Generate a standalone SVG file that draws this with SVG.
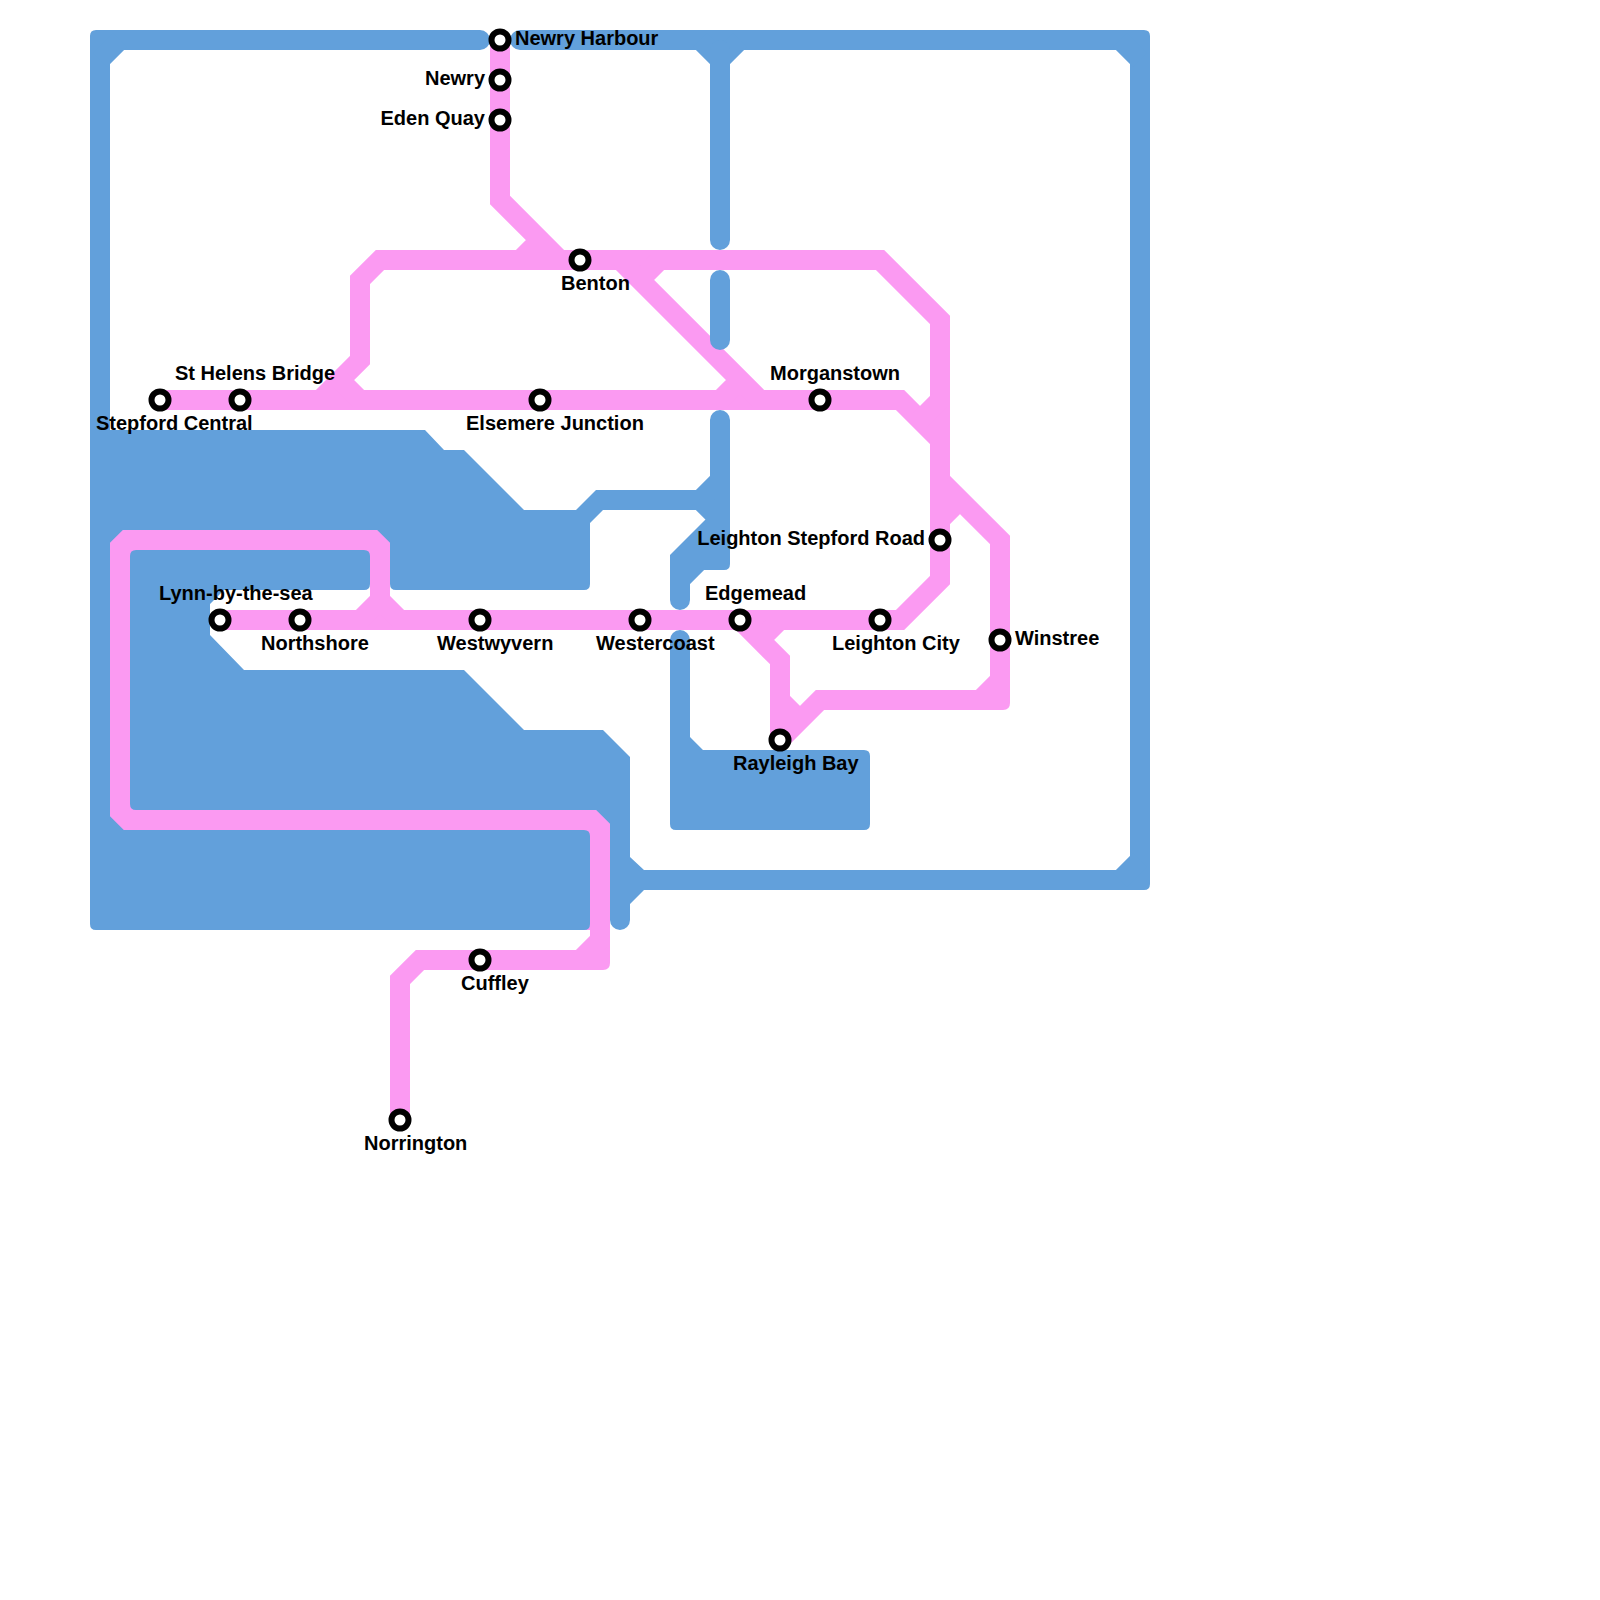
<svg xmlns="http://www.w3.org/2000/svg" width="1600" height="1600" viewBox="0 0 1600 1600">
<style>
.b{fill:#62a0db;stroke:none}
.bl{fill:none;stroke:#62a0db;stroke-width:20}
.blr{fill:none;stroke:#62a0db;stroke-width:20;stroke-linecap:round}
.p{fill:none;stroke:#fb9af2;stroke-width:20;stroke-linejoin:miter}
.pf{fill:#fb9af2;stroke:none}
.s{fill:#fff;stroke:#000;stroke-width:6}
text{font-family:"Liberation Sans",Arial,sans-serif;font-size:20px;font-weight:700;fill:#000}
.e{text-anchor:end}
</style>
<rect width="1600" height="1600" fill="#fff"/>
<g id="connectors">
<g id="line-blue">
<path class="b" d="M480 30H96Q90 30 90 36V435H110V50H480A10 10 0 0 0 480 30Z"/>
<path class="b" d="M520 30H1144Q1150 30 1150 36V884Q1150 890 1144 890H620V870H1130V50H520A10 10 0 0 1 520 30Z"/>
<path class="bl" d="M100 60L120 40M1120 40L1140 60M1140 860L1120 880M700 40L720 60M740 40L720 60"/>
<path class="blr" d="M720 50V240M720 420V550"/>
<path class="b" d="M90 430H425L444 450H464L524 510H576L596 490H700V510H603L590 523V584Q590 590 584 590H396Q390 590 390 584V580H370V584Q370 590 364 590H224L210 604V635L244 670H464L524 730H603L630 757V857L644 870H700V890H644L630 904V920A10 10 0 0 1 610 920V930H96Q90 930 90 924Z"/>
<path class="bl" d="M700 500L720 480M700 500L720 520M720 520L680 560V600M720 560H700L680 580V600"/>
<path class="b" d="M670 555L710 515H730V564Q730 570 724 570H703L690 583V600A10 10 0 0 1 670 600Z"/>
<path class="b" d="M670 640A10 10 0 0 1 690 640V737L703 750H864Q870 750 870 756V824Q870 830 864 830H676Q670 830 670 824Z"/>
</g>
<g id="line-pink">
<path class="p" d="M160 400H900L940 440"/>
<path class="p" d="M500 40V200L560 260M520 260L540 240"/>
<path class="p" d="M320 400L360 360V280L380 260H880L940 320V580L900 620H220"/>
<path class="p" d="M340 380L360 400M920 420L940 400"/>
<path class="p" d="M620 260L760 400M660 260L640 280M720 400L740 380"/>
<path class="p" d="M380 620V547L373 540H127L120 547V812L128 820H592L600 828V955M595 960H420L400 980V1120"/>
<path class="p" d="M380 600L360 620M380 600L400 620M580 960L600 940"/>
<path class="p" d="M740 620L780 660V740M780 620L760 640M780 700L800 720"/>
<path class="p" d="M940 480L1000 540V695M995 700H820L780 740M980 700L1000 680M940 520L960 500"/>
<path class="pf" d="M130 550h6q-6 0-6 6zM370 550h-6q6 0 6 6zM130 810h6q-6 0-6-6zM590 830h-6q6 0 6 6zM590 930h-6q6 0 6-6z"/>
<path class="pf" d="M990 690H1010V703Q1010 710 1003 710H990ZM590 950H610V963Q610 970 603 970H590Z"/>
</g>
<path class="blr" d="M720 280V340"/>
</g>
<g id="stations">
<g id="newry-harbour"><circle class="s" cx="500" cy="40" r="8.5"/><text x="515" y="45">Newry Harbour</text></g>
<g id="newry"><circle class="s" cx="500" cy="80" r="8.5"/><text class="e" x="485" y="85">Newry</text></g>
<g id="eden-quay"><circle class="s" cx="500" cy="120" r="8.5"/><text class="e" x="485" y="125">Eden Quay</text></g>
<g id="benton"><circle class="s" cx="580" cy="260" r="8.5"/><text x="561" y="290">Benton</text></g>
<g id="stepford-central"><circle class="s" cx="160" cy="400" r="8.5"/><text x="96" y="430">Stepford Central</text></g>
<g id="st-helens-bridge"><circle class="s" cx="240" cy="400" r="8.5"/><text x="175" y="380">St Helens Bridge</text></g>
<g id="elsemere-junction"><circle class="s" cx="540" cy="400" r="8.5"/><text x="466" y="430">Elsemere Junction</text></g>
<g id="morganstown"><circle class="s" cx="820" cy="400" r="8.5"/><text x="770" y="380">Morganstown</text></g>
<g id="leighton-stepford-road"><circle class="s" cx="940" cy="540" r="8.5"/><text class="e" x="925" y="545">Leighton Stepford Road</text></g>
<g id="lynn-by-the-sea"><circle class="s" cx="220" cy="620" r="8.5"/><text x="159" y="600">Lynn-by-the-sea</text></g>
<g id="northshore"><circle class="s" cx="300" cy="620" r="8.5"/><text x="261" y="650">Northshore</text></g>
<g id="westwyvern"><circle class="s" cx="480" cy="620" r="8.5"/><text x="437" y="650">Westwyvern</text></g>
<g id="westercoast"><circle class="s" cx="640" cy="620" r="8.5"/><text x="596" y="650">Westercoast</text></g>
<g id="edgemead"><circle class="s" cx="740" cy="620" r="8.5"/><text x="705" y="600">Edgemead</text></g>
<g id="leighton-city"><circle class="s" cx="880" cy="620" r="8.5"/><text x="832" y="650">Leighton City</text></g>
<g id="winstree"><circle class="s" cx="1000" cy="640" r="8.5"/><text x="1015" y="645">Winstree</text></g>
<g id="rayleigh-bay"><circle class="s" cx="780" cy="740" r="8.5"/><text x="733" y="770">Rayleigh Bay</text></g>
<g id="cuffley"><circle class="s" cx="480" cy="960" r="8.5"/><text x="461" y="990">Cuffley</text></g>
<g id="norrington"><circle class="s" cx="400" cy="1120" r="8.5"/><text x="364" y="1150">Norrington</text></g>
</g>
</svg>
